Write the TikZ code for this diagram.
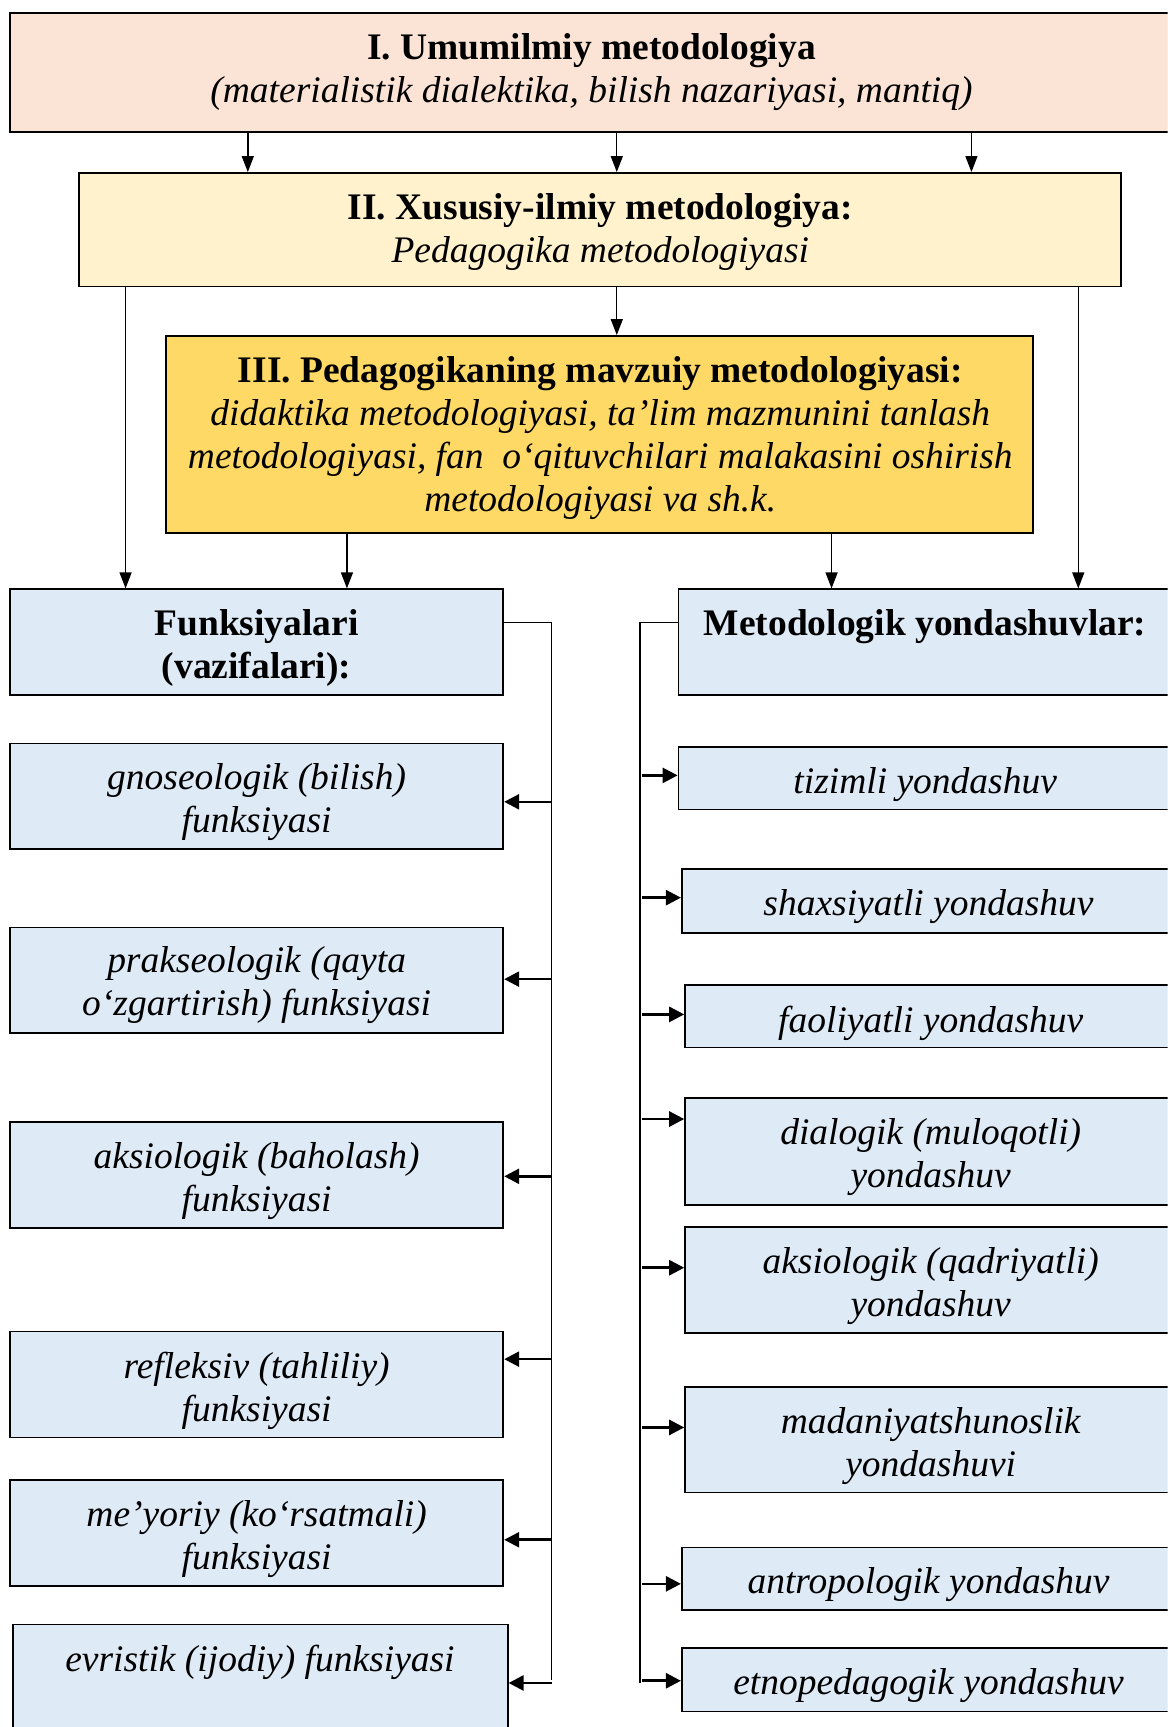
\documentclass[tikz,border=0pt]{standalone}
\usepackage{fontspec}
\setmainfont{Liberation Serif}
\usetikzlibrary{fit,arrows.meta}
\definecolor{peach}{HTML}{FBE4D5}
\definecolor{cream}{HTML}{FFF2CC}
\definecolor{gold}{HTML}{FFD966}
\definecolor{lblue}{HTML}{DEEAF6}
\tikzset{
  box/.style={draw=black, line width=1.7pt, inner sep=0pt},
  lblbox/.style={box, fill=lblue},
  txt/.style={inner sep=0pt, align=center, yshift=-3.3pt, font=\fontsize{37.5}{43}\selectfont},
  conn/.style={line width=1.3pt},
  varr/.style={line width=1.4pt, -{Triangle[length=16pt,width=12pt]}},
  harr/.style={line width=2.6pt, -{Triangle[length=15pt,width=15pt]}},
}
\begin{document}
\begin{tikzpicture}[x=1.1019pt, y=-1.1019pt]
\clip (0,0) rectangle (1060,1568);
\fill[white] (0,0) rectangle (1060,1568);

% top levels
\node[box, fill=peach, fit={(9,12) (1065,120)}] (m1) {};
\node[txt] (m1t) at (537,62.5)
  {\textbf{I. Umumilmiy metodologiya}\\\textit{(materialistik dialektika, bilish nazariyasi, mantiq)}};
\node[box, fill=cream, fit={(72,157) (1018,260)}] (m2) {};
\node[txt] (m2t) at (545,207.5)
  {\textbf{II. Xususiy-ilmiy metodologiya:}\\\textit{Pedagogika metodologiyasi}};
\node[box, fill=gold, fit={(151,305) (938,484)}] (m3) {};
\node[txt] (m3t) at (545,394.5)
  {\textbf{III. Pedagogikaning mavzuiy metodologiyasi:}\\
   \textit{didaktika metodologiyasi, ta’lim mazmunini tanlash}\\
   \textit{metodologiyasi, fan\ \ o‘qituvchilari malakasini oshirish}\\
   \textit{metodologiyasi va sh.k.}};

% headers
\node[lblbox, fit={(9,535) (457,631)}] (fh) {};
\node[txt, font=\fontsize{37.5}{43}\selectfont\bfseries] (fht) at (233,585)
  {Funksiyalari\\(vazifalari):};
\node[lblbox, fit={(616,535) (1067,631)}] (mh) {};
\node[txt, font=\fontsize{37.5}{43}\selectfont\bfseries] (mht) at (840,566) {Metodologik yondashuvlar:};

% left boxes
\node[lblbox, fit={(9,675) (457,771)}] (f1) {};
\node[txt, font=\fontsize{37.5}{43}\selectfont\itshape] (f1t) at (233,725.5) {gnoseologik (bilish)\\funksiyasi};
\node[lblbox, fit={(9,842) (457,938)}] (f2) {};
\node[txt, font=\fontsize{37.5}{43}\selectfont\itshape] (f2t) at (233,891.5) {prakseologik (qayta\\o‘zgartirish) funksiyasi};
\node[lblbox, fit={(9,1019) (457,1115)}] (f3) {};
\node[txt, font=\fontsize{37.5}{43}\selectfont\itshape] (f3t) at (233,1069.5) {aksiologik (baholash)\\funksiyasi};
\node[lblbox, fit={(9,1209) (457,1305)}] (f4) {};
\node[txt, font=\fontsize{37.5}{43}\selectfont\itshape] (f4t) at (233,1259.5) {refleksiv (tahliliy)\\funksiyasi};
\node[lblbox, fit={(9,1344) (457,1440)}] (f5) {};
\node[txt, font=\fontsize{37.5}{43}\selectfont\itshape] (f5t) at (233,1394.5) {me’yoriy (ko‘rsatmali)\\funksiyasi};
\node[lblbox, fit={(12,1475) (461,1600)}] (f6) {};
\node[txt, font=\fontsize{37.5}{43}\selectfont\itshape] (f6t) at (236,1506) {evristik (ijodiy) funksiyasi};

% right boxes
\node[lblbox, fit={(616,678) (1067,735)}] (r1) {};
\node[txt, font=\fontsize{37.5}{43}\selectfont\itshape] (r1t) at (840,709) {tizimli yondashuv};
\node[lblbox, fit={(619,789) (1067,847)}] (r2) {};
\node[txt, font=\fontsize{37.5}{43}\selectfont\itshape] (r2t) at (843,820) {shaxsiyatli yondashuv};
\node[lblbox, fit={(622,894) (1067,951)}] (r3) {};
\node[txt, font=\fontsize{37.5}{43}\selectfont\itshape] (r3t) at (845,926) {faoliyatli yondashuv};
\node[lblbox, fit={(622,997) (1067,1094)}] (r4) {};
\node[txt, font=\fontsize{37.5}{43}\selectfont\itshape] (r4t) at (845,1047.5) {dialogik (muloqotli)\\yondashuv};
\node[lblbox, fit={(622,1114) (1067,1210)}] (r5) {};
\node[txt, font=\fontsize{37.5}{43}\selectfont\itshape] (r5t) at (845,1164.5) {aksiologik (qadriyatli)\\yondashuv};
\node[lblbox, fit={(622,1259) (1067,1355)}] (r6) {};
\node[txt, font=\fontsize{37.5}{43}\selectfont\itshape] (r6t) at (845,1310) {madaniyatshunoslik\\yondashuvi};
\node[lblbox, fit={(619,1405) (1067,1462)}] (r7) {};
\node[txt, font=\fontsize{37.5}{43}\selectfont\itshape] (r7t) at (843,1436) {antropologik yondashuv};
\node[lblbox, fit={(619,1496) (1067,1554)}] (r8) {};
\node[txt, font=\fontsize{37.5}{43}\selectfont\itshape] (r8t) at (843,1527) {etnopedagogik yondashuv};

% vertical arrows
\coordinate (a1) at (225,120);
\coordinate (a2) at (560,120);
\coordinate (a3) at (882,120);
\draw[varr] (a1) -- (a1 |- m2.north);
\draw[varr] (a2) -- (a2 |- m2.north);
\draw[varr] (a3) -- (a3 |- m2.north);
\coordinate (b1) at (114,260);
\coordinate (b2) at (560,260);
\coordinate (b3) at (979,260);
\draw[varr] (b1) -- (b1 |- fh.north);
\draw[varr] (b2) -- (b2 |- m3.north);
\draw[varr] (b3) -- (b3 |- mh.north);
\coordinate (c1) at (315,484);
\coordinate (c2) at (755,484);
\draw[varr] (c1) -- (c1 |- fh.north);
\draw[varr] (c2) -- (c2 |- mh.north);

% left bracket
\coordinate (lb) at (501,565);
\coordinate (lbe) at (501,1525);
\draw[conn] (fh.east |- lb) -- (lb) -- (lbe);
\foreach \y/\n in {728/f1, 889/f2, 1068/f3, 1234/f4, 1398/f5, 1528/f6}{
  \coordinate (lp) at (501,\y);
  \draw[harr] (lp) -- (lp -| \n.east);
}

% right bracket
\coordinate (rb) at (581,565);
\coordinate (rbe) at (581,1528);
\draw[conn] (mh.west |- rb) -- (rb) -- (rbe);
\foreach \y/\n in {704/r1, 815/r2, 921/r3, 1016/r4, 1151/r5, 1296/r6, 1438/r7, 1526/r8}{
  \coordinate (rp) at (583,\y);
  \draw[harr] (rp) -- (rp -| \n.west);
}
\end{tikzpicture}
\end{document}
